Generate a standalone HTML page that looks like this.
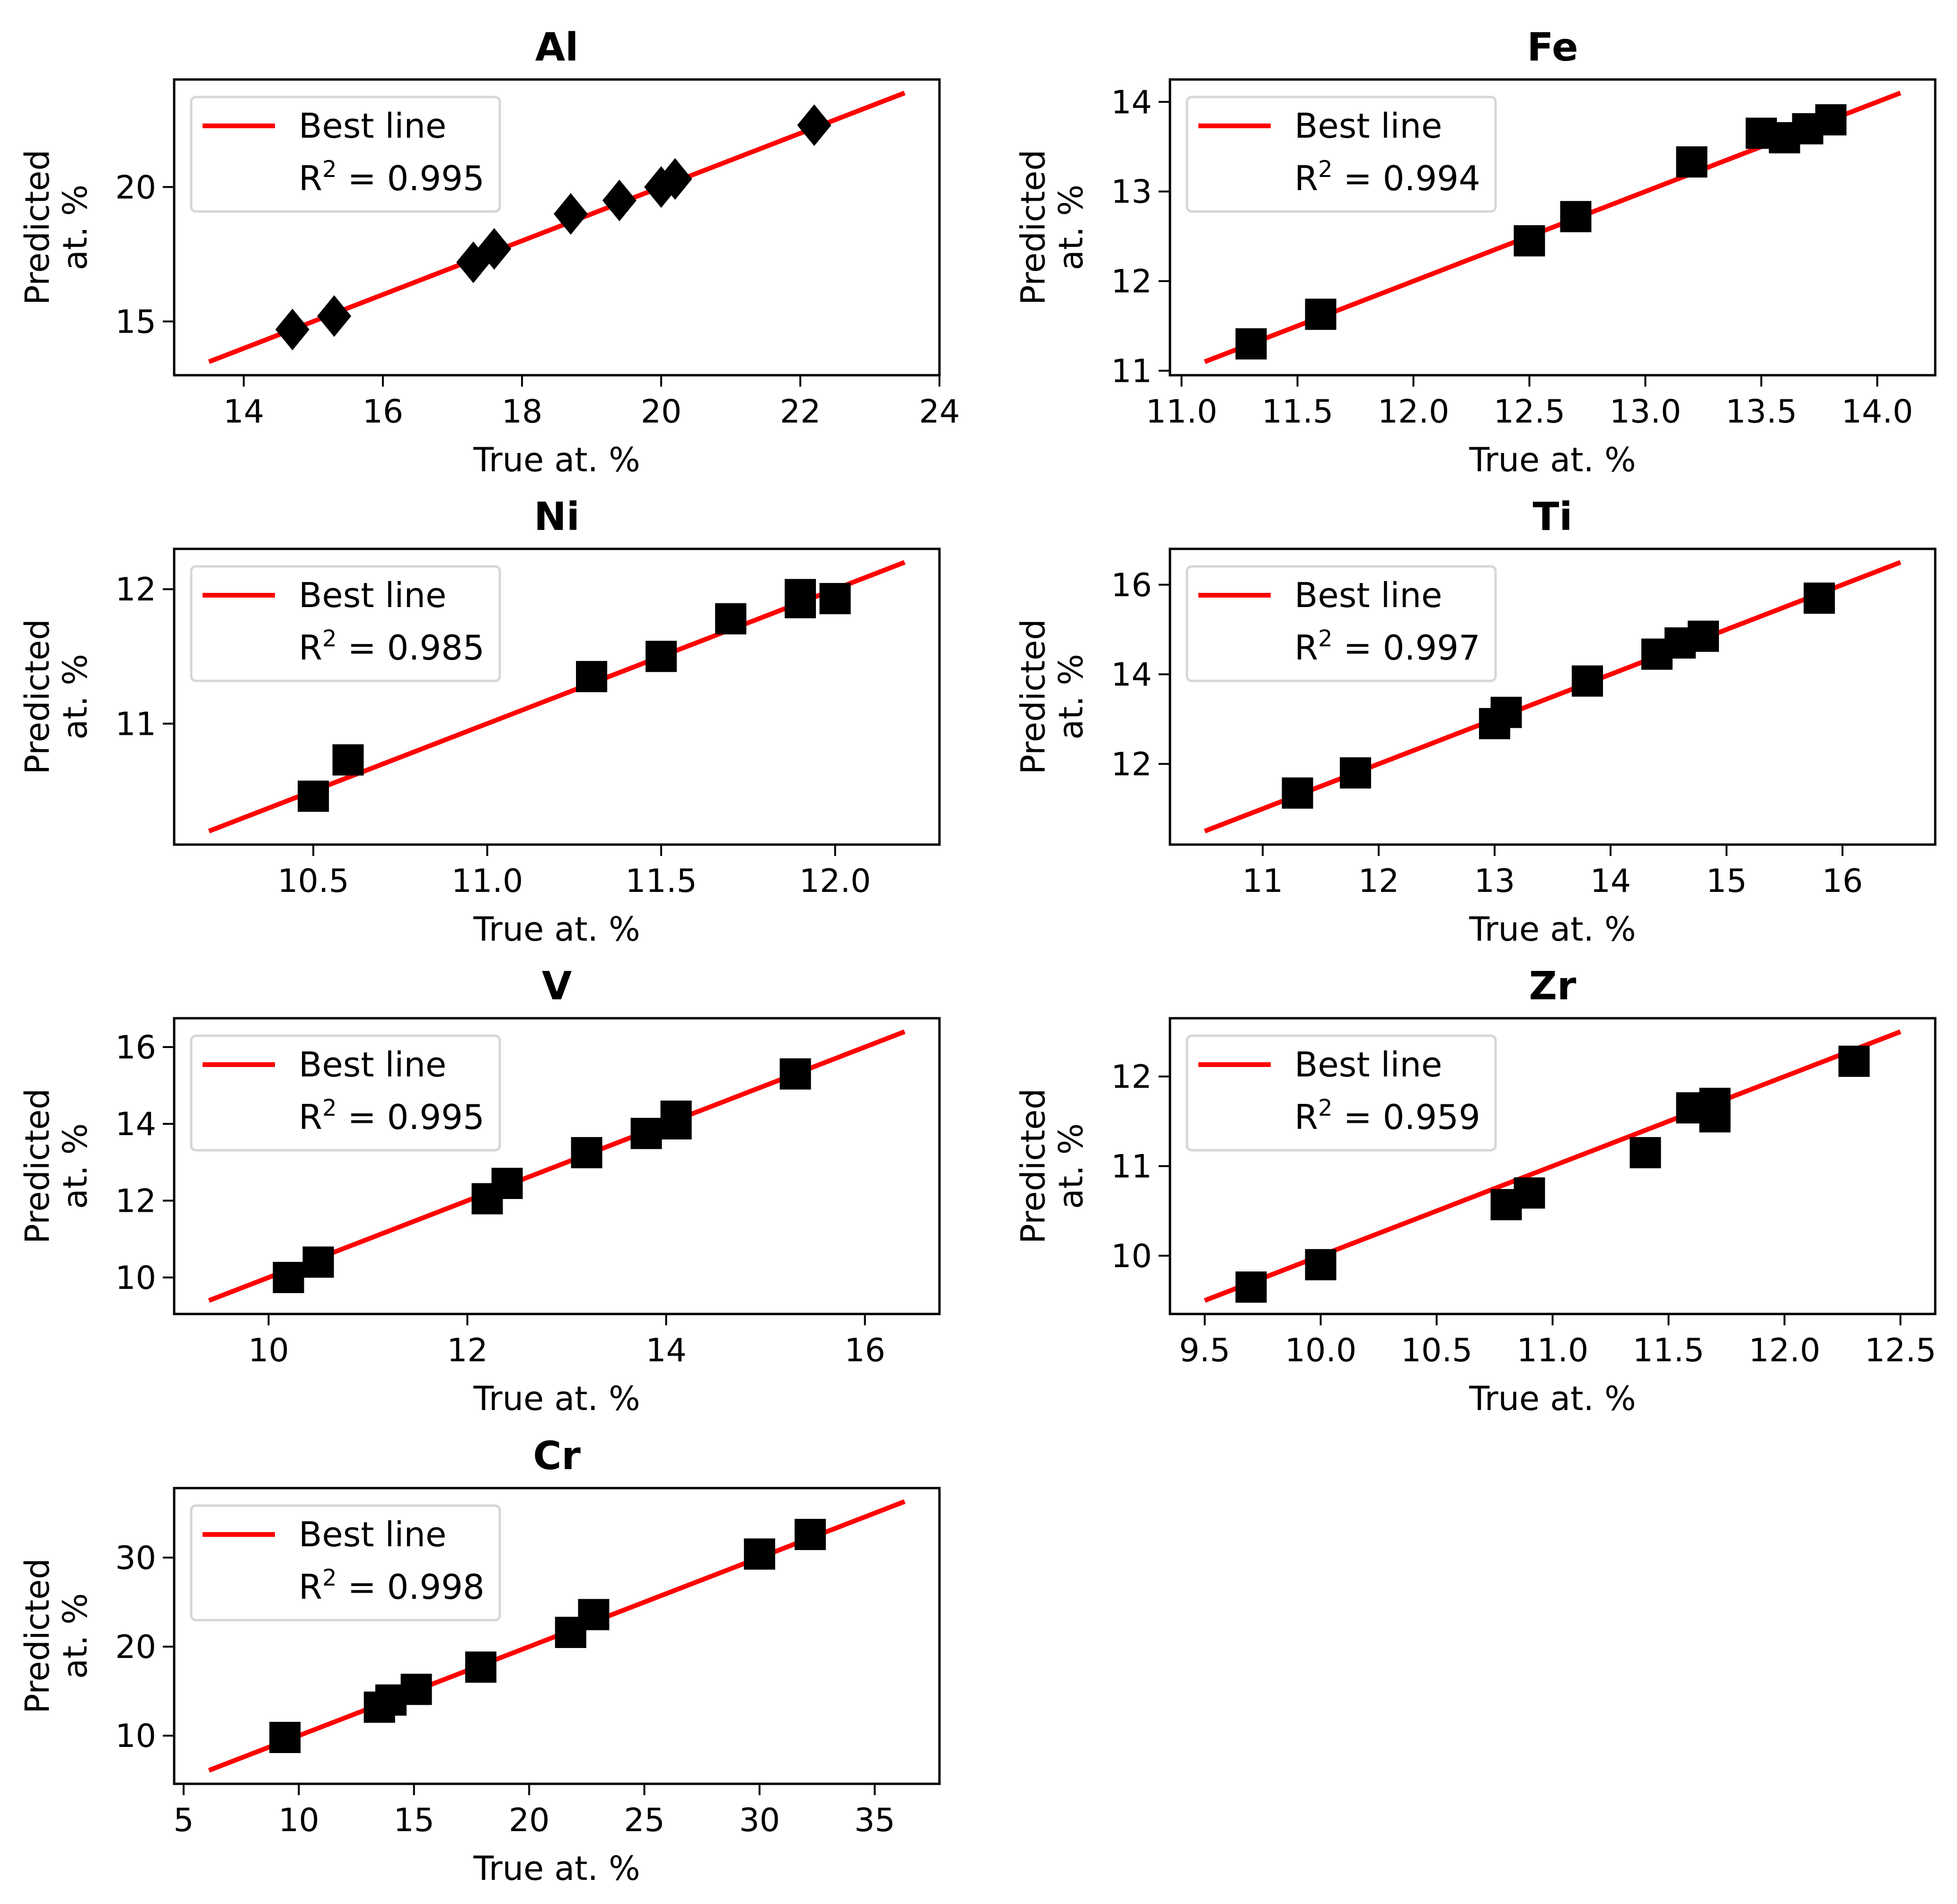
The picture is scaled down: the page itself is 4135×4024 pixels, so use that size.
<!DOCTYPE html>
<html><head><meta charset="utf-8"><style>
html,body{margin:0;padding:0;background:#fff;}
svg{display:block;font-family:"DejaVu Sans","Liberation Sans",sans-serif;}
</style></head>
<body>
<svg id="fig" width="4135" height="4024" viewBox="0 0 4135 4024" xmlns="http://www.w3.org/2000/svg"></svg>
<script>
const panelNames = ["Al","Fe","Ni","Ti","V","Zr","Cr"];
const r2Values = ["0.995","0.994","0.985","0.997","0.995","0.959","0.998"];
const lineRanges = [[13.5,23.5],[11.1,14.1],[10.2,12.2],[10.5,16.5],[9.4,16.4],[9.5,12.5],[6.1,36.3]];
const xTicks = [[14,16,18,20,22,24],[11.0,11.5,12.0,12.5,13.0,13.5,14.0],[10.5,11.0,11.5,12.0],[11,12,13,14,15,16],[10,12,14,16],[9.5,10.0,10.5,11.0,11.5,12.0,12.5],[5,10,15,20,25,30,35]];
const yTicks = [[15,20],[11,12,13,14],[11,12],[12,14,16],[10,12,14,16],[10,11,12],[10,20,30]];
const tickDecimals = [0,1,1,0,0,1,0];
const yDecimals = [0,0,0,0,0,0,0];
const trueAl = [14.7,15.3,17.3,17.6,18.7,19.4,20.0,20.2,22.2];
const predAl = [14.7,15.2,17.2,17.7,19.0,19.5,20.0,20.3,22.3];
const trueFe = [11.3,11.6,12.5,12.7,13.2,13.5,13.6,13.7,13.8];
const predFe = [11.3,11.63,12.45,12.72,13.33,13.65,13.6,13.7,13.8];
const trueNi = [10.5,10.6,11.3,11.5,11.7,11.9,11.9,12.0];
const predNi = [10.46,10.73,11.35,11.5,11.78,11.96,11.9,11.93];
const trueTi = [11.3,11.8,13.0,13.1,13.8,14.4,14.6,14.8,15.8];
const predTi = [11.35,11.8,12.9,13.15,13.85,14.45,14.7,14.85,15.7];
const trueV = [10.2,10.5,12.2,12.4,13.2,13.8,14.1,14.1,15.3];
const predV = [10.0,10.4,12.05,12.45,13.25,13.75,14.0,14.2,15.3];
const trueZr = [9.7,10.0,10.8,10.9,11.4,11.6,11.7,11.7,12.3];
const predZr = [9.65,9.9,10.57,10.7,11.15,11.65,11.7,11.55,12.17];
const trueCr = [9.4,13.5,14.0,15.1,17.9,21.8,22.8,30.0,32.2];
const predCr = [9.8,13.2,14.0,15.2,17.7,21.6,23.6,30.4,32.6];
const trueSets = [trueAl,trueFe,trueNi,trueTi,trueV,trueZr,trueCr];
const predSets = [predAl,predFe,predNi,predTi,predV,predZr,predCr];

const NS="http://www.w3.org/2000/svg";
const svg=document.getElementById('fig');
function mk(tag,attrs,parent){const e=document.createElementNS(NS,tag);for(const k in attrs)e.setAttribute(k,attrs[k]);(parent||svg).appendChild(e);return e;}
const colX=[368,2472], rowY=[168,1160,2152,3145], AW=1617, AH=625;

panelNames.forEach((name,i)=>{
  const ax=colX[i%2], ay=rowY[Math.floor(i/2)];
  const [a,b]=lineRanges[i]; const m=0.05*(b-a);
  const lo=a-m, hi=b+m;
  const sx=v=>ax+(v-lo)/(hi-lo)*AW;
  const sy=v=>ay+AH-(v-lo)/(hi-lo)*AH;
  const g=mk('g',{});
  
  
  const t=mk('text',{x:ax+AW/2,y:ay-40,'text-anchor':'middle','font-size':82,'font-weight':'bold'},g);
  t.textContent=name;
  
  
  const cid='clip'+i;
  const cp=mk('clipPath',{id:cid},g); mk('rect',{x:ax,y:ay,width:AW,height:AH},cp);
  const plot=mk('g',{'clip-path':'url(#'+cid+')'},g);
  const ln=mk('line',{x1:sx(a),y1:sy(a),x2:sx(b),y2:sy(b),stroke:'#ff0000','stroke-width':10},plot);
  
  
  trueSets[i].forEach((tv,j)=>{
    const px=sx(tv), py=sy(predSets[i][j]);
    let mkr;
    if(i===0){mkr=mk('polygon',{points:`${px},${py-44} ${px+36},${py} ${px},${py+44} ${px-36},${py}`,fill:'#000'},plot);}
    else{mkr=mk('rect',{x:px-33,y:py-33,width:66,height:66,fill:'#000'},plot);}
    
    
  });
  const fr=mk('rect',{x:ax,y:ay,width:AW,height:AH,fill:'none',stroke:'#000','stroke-width':5},g);
  
  
  xTicks[i].forEach(v=>{
    const x=sx(v);
    mk('line',{x1:x,y1:ay+AH,x2:x,y2:ay+AH+24,stroke:'#000','stroke-width':4},g);
    const tl=mk('text',{x:x,y:ay+AH+100,'text-anchor':'middle','font-size':68},g);
    tl.textContent=v.toFixed(tickDecimals[i]);
    
    
  });
  yTicks[i].forEach(v=>{
    const y=sy(v);
    mk('line',{x1:ax-24,y1:y,x2:ax,y2:y,stroke:'#000','stroke-width':4},g);
    const tl=mk('text',{x:ax-38,y:y+24,'text-anchor':'end','font-size':68},g);
    tl.textContent=v.toFixed(yDecimals[i]);
    
    
  });
  const xl=mk('text',{x:ax+AW/2,y:ay+AH+203,'text-anchor':'middle','font-size':70},g);
  xl.textContent='True at. %';
  
  
  const ylx=ax-265, ylc=ay+AH/2;
  const yl=mk('text',{transform:`translate(${ylx},${ylc}) rotate(-90)`,'text-anchor':'middle','font-size':70},g);
  
  
  const s1=mk('tspan',{x:0,y:0},yl); s1.textContent='Predicted';
  const s2=mk('tspan',{x:0,y:80},yl); s2.textContent='at. %';
  const lg=mk('g',{},g);
  
  
  mk('rect',{x:ax+36,y:ay+37,width:652,height:242,rx:10,fill:'#fff','fill-opacity':0.8,stroke:'#d6d6d6','stroke-width':5},lg);
  mk('line',{x1:ax+60,y1:ay+98,x2:ax+213,y2:ay+98,stroke:'#ff0000','stroke-width':10},lg);
  const l1=mk('text',{x:ax+263,y:ay+123,'font-size':72},lg); l1.textContent='Best line';
  const l2=mk('text',{x:ax+263,y:ay+234,'font-size':72},lg);
  const r=mk('tspan',{},l2); r.textContent='R';
  const sup=mk('tspan',{dy:-28,'font-size':48},l2); sup.textContent='2';
  const rest=mk('tspan',{dy:28},l2); rest.textContent=' = '+r2Values[i];
});
</script>
</body></html>
